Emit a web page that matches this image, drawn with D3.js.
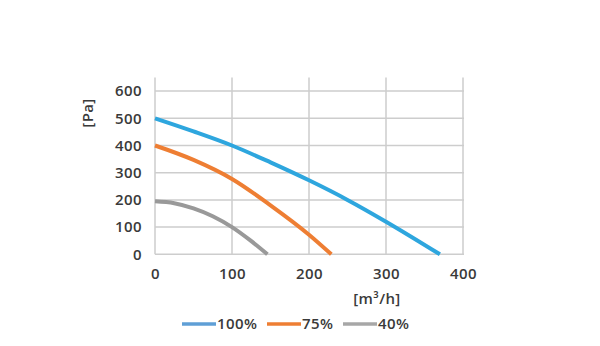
<!DOCTYPE html>
<html>
<head>
<meta charset="utf-8">
<script src="https://cdn.jsdelivr.net/npm/d3@7"></script>
<style>
html,body{margin:0;padding:0;background:#fff;}
svg{display:block;}
text{font-family:"Open Sans",sans-serif;fill:#3a3a3a;}
</style>
</head>
<body>
<svg id="chart" width="600" height="346"></svg>
<script>
const xTicks = [0, 100, 200, 300, 400];
const yTicks = [0, 100, 200, 300, 400, 500, 600];
const seriesNames = ["100%", "75%", "40%"];
const curveColors = ["#2ea6de", "#ee7e33", "#999999"];
const legendColors = ["#5f9fd6", "#ee7e33", "#a7a7a7"];
const flow100 = [0, 50, 100, 150, 200, 250, 300, 370];
const pres100 = [500, 452, 400, 338, 272, 200, 120, 0];
const flow75 = [0, 50, 100, 150, 200, 229];
const pres75 = [400, 347, 277, 180, 72, 0];
const flow40 = [0, 25, 50, 75, 100, 123, 146];
const pres40 = [195, 188, 169, 140, 100, 53, 0];
const xLabel = "[m³/h]";
const yLabel = "[Pa]";

const series = [
  {name: seriesNames[0], xs: flow100, ys: pres100},
  {name: seriesNames[1], xs: flow75, ys: pres75},
  {name: seriesNames[2], xs: flow40, ys: pres40}
];

const svg = d3.select("#chart");
const x = d3.scaleLinear().domain([0, 400]).range([155, 463]);
const y = d3.scaleLinear().domain([0, 650]).range([254.3, 77.5]);
const fontCss = sel => sel.style("font-family", '"Open Sans",sans-serif')
  .style("font-size", "15px").style("font-weight", "600")
  .style("letter-spacing", "0.4px").attr("fill", "#3a3a3a");

const grid = svg.append("g");
grid.selectAll("line.h").data(yTicks).enter().append("line")
  .attr("x1", x(0)).attr("x2", x(400) + 1)
  .attr("y1", d => y(d)).attr("y2", d => y(d))
  .attr("stroke", "#cdcdcd").attr("stroke-width", 1.5);
grid.selectAll("line.v").data(xTicks).enter().append("line")
  .attr("x1", d => x(d)).attr("x2", d => x(d))
  .attr("y1", y(0)).attr("y2", y(650))
  .attr("stroke", "#cdcdcd").attr("stroke-width", 1.5);

const xAxis = svg.append("g").attr("transform", `translate(0,${y(0)})`)
  .call(d3.axisBottom(x).tickValues(xTicks).tickSize(0).tickPadding(14).tickFormat(d3.format("d")));
const yAxis = svg.append("g").attr("transform", `translate(${x(0)},0)`)
  .call(d3.axisLeft(y).tickValues(yTicks).tickSize(0).tickPadding(13).tickFormat(d3.format("d")));
[xAxis, yAxis].forEach(a => {
  a.select(".domain").remove();
  a.selectAll("text").call(fontCss);
});

const line = d3.line().x(d => x(d[0])).y(d => y(d[1])).curve(d3.curveMonotoneX);
series.forEach((s, i) => {
  svg.append("path")
    .datum(s.xs.map((v, j) => [v, s.ys[j]]))
    .attr("d", line)
    .attr("fill", "none")
    .attr("stroke", curveColors[i])
    .attr("stroke-width", 4)
    .attr("stroke-linecap", "butt");
});

svg.append("text")
  .attr("transform", `translate(93,113) rotate(-90)`)
  .attr("text-anchor", "middle")
  .call(fontCss)
  .text(yLabel);

svg.append("text")
  .attr("x", 377).attr("y", 304)
  .attr("text-anchor", "middle")
  .call(fontCss)
  .text(xLabel);

const legendX = [182, 267, 343];
const lg = svg.append("g");
series.forEach((s, i) => {
  lg.append("line")
    .attr("x1", legendX[i]).attr("x2", legendX[i] + 34)
    .attr("y1", 324).attr("y2", 324)
    .attr("stroke", legendColors[i]).attr("stroke-width", 3.5);
  lg.append("text")
    .attr("x", legendX[i] + 35).attr("y", 329)
    .call(fontCss)
    .text(s.name);
});
</script>
</body>
</html>
